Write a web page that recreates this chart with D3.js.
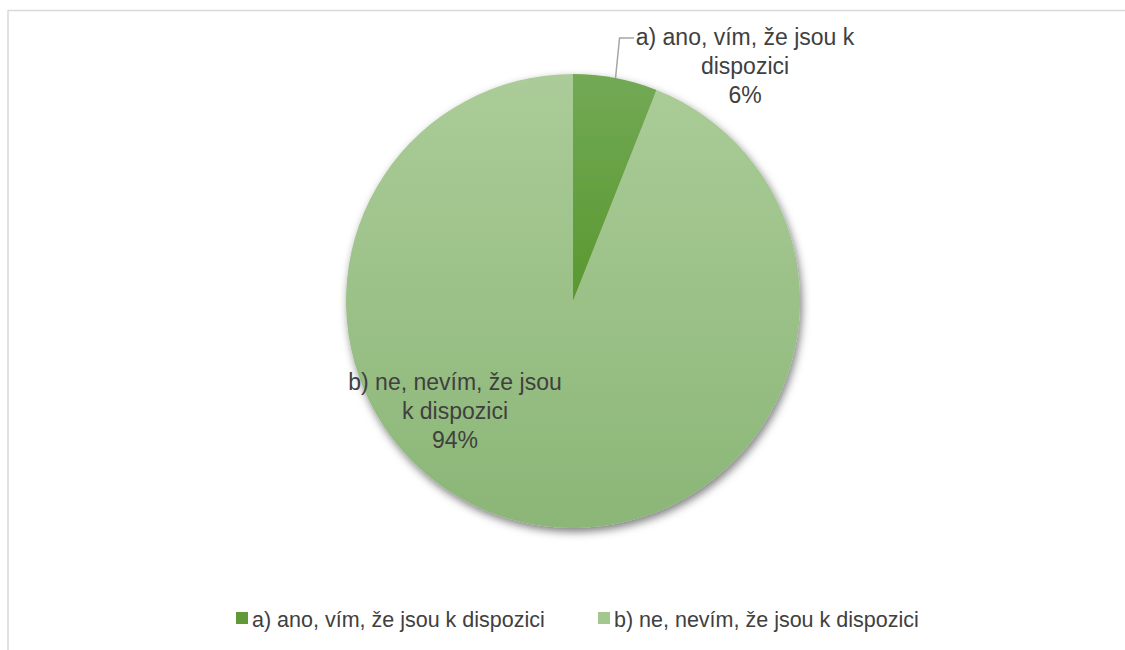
<!DOCTYPE html>
<html><head><meta charset="utf-8">
<script src="https://cdn.jsdelivr.net/npm/d3@7"></script>
<style>body{margin:0;background:#fff}svg{display:block}</style>
</head><body>
<svg id="c" width="1125" height="650"></svg>
<script>
const categories = ["a) ano, vím, že jsou k dispozici", "b) ne, nevím, že jsou k dispozici"];
const values = [6, 94];
const labelLines = [["a) ano, vím, že jsou k", "dispozici", "6%"], ["b) ne, nevím, že jsou", "k dispozici", "94%"]];
const topColors = ["#72a955", "#abcc98"];
const bottomColors = ["#5a982f", "#8bb677"];
const legendColors = ["#5f9a36", "#a3c78f"];

const font = "'Liberation Sans Narrow', 'Liberation Sans', sans-serif";
const svg = d3.select("#c");
const W = 1125, H = 650;
const cx = 573, cy = 301, r = 227;

// frame lines
svg.append("line").attr("x1", 8).attr("y1", 10.5).attr("x2", W).attr("y2", 10.5).attr("stroke", "#d9d9d9").attr("stroke-width", 1.5);
svg.append("line").attr("x1", 8).attr("y1", 10).attr("x2", 8).attr("y2", H).attr("stroke", "#d9d9d9").attr("stroke-width", 1.5);

const defs = svg.append("defs");
const f = defs.append("filter").attr("id", "sh").attr("x", "-20%").attr("y", "-20%").attr("width", "140%").attr("height", "140%");
f.append("feDropShadow").attr("dx", 2).attr("dy", 4).attr("stdDeviation", 4).attr("flood-color", "#000").attr("flood-opacity", 0.5);

const pie = d3.pie().sort(null).value(d => d);
const arcs = pie(values);
const arc = d3.arc().innerRadius(0).outerRadius(r);

arcs.forEach((a, i) => {
  const g = defs.append("linearGradient").attr("id", "g" + i).attr("x1", 0).attr("y1", 0).attr("x2", 0).attr("y2", 1);
  g.append("stop").attr("offset", "0%").attr("stop-color", topColors[i]);
  g.append("stop").attr("offset", "100%").attr("stop-color", bottomColors[i]);
});

const gp = svg.append("g").attr("transform", `translate(${cx},${cy})`).attr("filter", "url(#sh)");
gp.selectAll("path").data(arcs).join("path")
  .attr("d", arc)
  .attr("fill", (d, i) => `url(#g${i})`);

// leader line for a)
const aMid = (arcs[0].startAngle + arcs[0].endAngle) / 2;
const px = cx + Math.sin(aMid) * r, py = cy - Math.cos(aMid) * r;
svg.append("polyline")
  .attr("points", `${px},${py} ${px + 4},${38} ${634},${38}`)
  .attr("fill", "none").attr("stroke", "#a6a6a6").attr("stroke-width", 1.5);

const labelPos = [[745, 45], [455, 390]];
labelLines.forEach((lines, i) => {
  const t = svg.append("text").attr("text-anchor", "middle").attr("font-family", font).attr("font-size", 23).attr("fill", "#404040");
  lines.forEach((l, j) => t.append("tspan").attr("x", labelPos[i][0]).attr("y", labelPos[i][1] + j * 29).text(l));
});

// legend
const legX = [236, 598];
categories.forEach((c, i) => {
  svg.append("rect").attr("x", legX[i]).attr("y", 612).attr("width", 12).attr("height", 12).attr("fill", legendColors[i]);
  svg.append("text").attr("x", legX[i] + 16).attr("y", 627).attr("font-family", font).attr("font-size", 21.5).attr("fill", "#404040").text(c);
});
</script>
</body></html>
